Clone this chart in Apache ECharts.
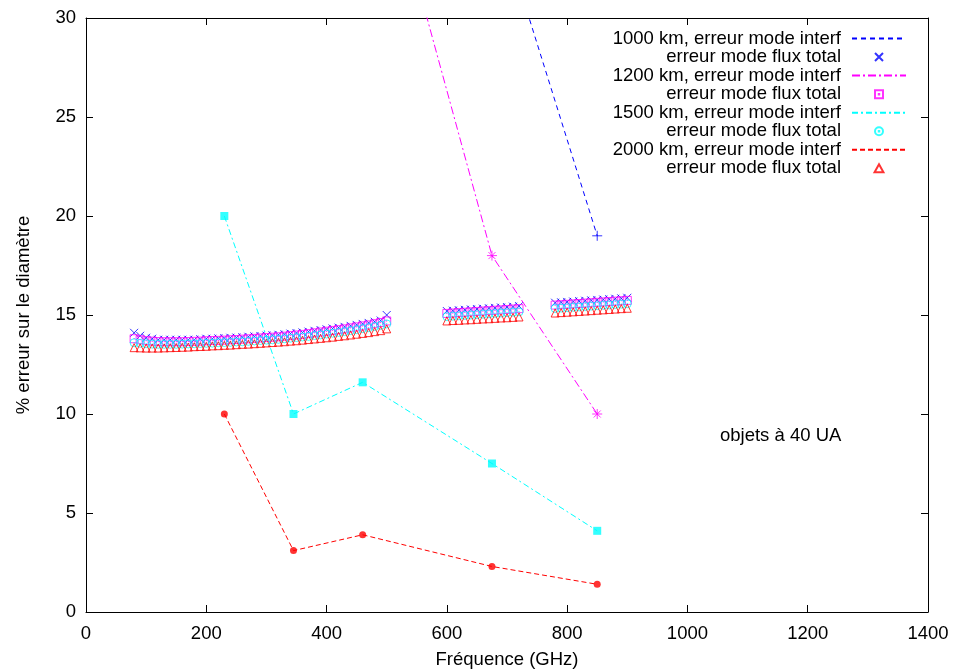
<!DOCTYPE html>
<html>
<head>
<meta charset="utf-8">
<script src="https://cdn.jsdelivr.net/npm/echarts@6/dist/echarts.min.js"></script>
<style>html,body{margin:0;padding:0;background:#fff}#c{width:956px;height:670px}</style>
</head>
<body>
<div id="c"></div>
<script>
// ---- data ----
var xTicks = [0, 200, 400, 600, 800, 1000, 1200, 1400];
var yTicks = [0, 5, 10, 15, 20, 25, 30];

var freqInterf = [230, 345, 460, 675, 850];
var interf1000 = [null, null, null, 36.0, 19.0];
var interf1200 = [null, null, 41.9, 18.0, 10.0];
var interf1500 = [20.0, 10.0, 11.6, 7.5, 4.1];
var interf2000 = [10.0, 3.1, 3.9, 2.3, 1.4];

var freqFlux = [80,90,100,110,120,130,140,150,160,170,180,190,200,210,220,230,240,250,260,270,280,290,300,310,320,330,340,350,360,370,380,390,400,410,420,430,440,450,460,470,480,490,500,
  600,610,620,630,640,650,660,670,680,690,700,710,720,
  780,790,800,810,820,830,840,850,860,870,880,890,900];
var flux1000 = [14.1,13.95,13.85,13.8,13.75,13.75,13.75,13.75,13.75,13.75,13.75,13.78,13.8,13.8,13.82,13.83,13.85,13.86,13.88,13.9,13.92,13.94,13.96,13.98,14.0,14.03,14.06,14.09,14.12,14.16,14.2,14.24,14.28,14.32,14.36,14.4,14.45,14.5,14.55,14.6,14.66,14.72,15.0,
  15.2,15.22,15.24,15.26,15.28,15.3,15.32,15.34,15.36,15.38,15.4,15.42,15.45,
  15.62,15.64,15.66,15.68,15.7,15.72,15.74,15.76,15.78,15.8,15.82,15.84,15.87];
var flux1200 = [13.8,13.75,13.7,13.68,13.66,13.65,13.65,13.65,13.65,13.66,13.67,13.68,13.7,13.71,13.72,13.73,13.75,13.76,13.78,13.8,13.82,13.84,13.86,13.88,13.9,13.93,13.96,13.99,14.02,14.06,14.1,14.14,14.18,14.22,14.26,14.3,14.35,14.4,14.45,14.5,14.56,14.62,14.7,
  15.08,15.1,15.12,15.14,15.16,15.18,15.2,15.22,15.24,15.26,15.28,15.3,15.32,
  15.5,15.52,15.54,15.56,15.58,15.6,15.62,15.64,15.66,15.68,15.7,15.72,15.74];
var flux1500 = [13.6,13.57,13.55,13.53,13.52,13.52,13.52,13.52,13.53,13.54,13.55,13.56,13.57,13.58,13.6,13.61,13.62,13.64,13.65,13.67,13.69,13.71,13.73,13.75,13.77,13.8,13.83,13.86,13.89,13.92,13.96,14.0,14.04,14.08,14.12,14.16,14.21,14.26,14.31,14.36,14.42,14.48,14.55,
  14.92,14.94,14.96,14.98,15.0,15.02,15.04,15.06,15.08,15.1,15.12,15.14,15.16,
  15.33,15.35,15.37,15.39,15.41,15.43,15.45,15.47,15.49,15.51,15.53,15.55,15.57];
var flux2000 = [13.35,13.34,13.33,13.33,13.33,13.34,13.35,13.36,13.37,13.38,13.4,13.41,13.42,13.44,13.45,13.47,13.48,13.5,13.52,13.53,13.55,13.57,13.59,13.61,13.63,13.65,13.68,13.7,13.73,13.76,13.79,13.82,13.85,13.88,13.92,13.95,13.99,14.03,14.07,14.11,14.16,14.21,14.3,
  14.7,14.72,14.73,14.75,14.76,14.78,14.8,14.81,14.83,14.85,14.86,14.88,14.9,
  15.1,15.12,15.14,15.16,15.18,15.2,15.22,15.24,15.26,15.28,15.3,15.32,15.34];

var legendLabels = {
  i1000: '1000 km, erreur mode interf',
  f1000: 'erreur mode flux total',
  i1200: '1200 km, erreur mode interf',
  f1200: 'erreur mode flux total',
  i1500: '1500 km, erreur mode interf',
  f1500: 'erreur mode flux total',
  i2000: '2000 km, erreur mode interf',
  f2000: 'erreur mode flux total'
};
var xTitle = 'Fréquence (GHz)';
var yTitle = '% erreur sur le diamètre';
var note = 'objets à 40 UA';

// ---- helpers ----
function pairs(xs, ys) { return xs.map(function (x, i) { return [x, ys[i] == null ? '-' : ys[i]]; }); }
var FONT = 'Liberation Sans';
var FS = 18.5;
var BLUE = '#0000ff', MAG = '#ff00ff', CYAN = '#00ffff', RED = '#ff0000';

var SYM_X = 'path://M0,0L10,10M10,0L0,10';
var SYM_PLUS = 'path://M5,0L5,10M0,5L10,5';
var SYM_STAR = 'path://M5,0L5,10M0,5L10,5M1.5,1.5L8.5,8.5M8.5,1.5L1.5,8.5';
var SYM_BOXDOT = 'path://M0,0L10,0L10,10L0,10Z M4.7,4.7L5.3,4.7L5.3,5.3L4.7,5.3Z';
var SYM_CIRCDOT = 'path://M5,0A5,5,0,1,1,5,10A5,5,0,1,1,5,0Z M4.7,4.7L5.3,4.7L5.3,5.3L4.7,5.3Z';
var SYM_TRI = 'path://M5,0L10,9L0,9Z';

function lineSeries(name, ys, color, dash) {
  return { name: name, type: 'line', data: pairs(freqInterf, ys), symbol: 'none', clip: true,
    lineStyle: { color: color, width: 1, type: dash }, itemStyle: { color: color },
    silent: true, emphasis: { disabled: true } };
}
function markerSeries(name, ys, color, symbol, size, filled) {
  return { name: name, type: 'scatter', data: pairs(freqInterf, ys), symbol: symbol, symbolSize: size, clip: true,
    itemStyle: filled ? { color: color } : { color: 'transparent', borderColor: color, borderWidth: 1 },
    silent: true, emphasis: { disabled: true } };
}
function fluxSeries(name, ys, color, symbol, size) {
  return { name: name, type: 'scatter', data: pairs(freqFlux, ys), symbol: symbol, symbolSize: size, clip: true,
    itemStyle: { color: 'transparent', borderColor: color, borderWidth: 1 },
    silent: true, emphasis: { disabled: true } };
}

var labelStyle = { color: '#000', fontFamily: FONT, fontSize: FS, formatter: function (v) { return String(v); } };
var axisCommon = {
  type: 'value',
  axisLine: { show: true, onZero: false, lineStyle: { color: '#000', width: 1 } },
  axisTick: { show: true, inside: true, length: 7, lineStyle: { color: '#000' } },
  splitLine: { show: false }
};
var hiddenLine = { itemStyle: { color: 'transparent', borderWidth: 0, opacity: 0 } };

var chart = echarts.init(document.getElementById('c'), null, { renderer: 'canvas' });
chart.setOption({
  animation: false,
  backgroundColor: '#fff',
  grid: { left: 86, right: 28, top: 18, bottom: 58, containLabel: false, outerBoundsMode: 'none' },
  xAxis: [
    Object.assign({}, axisCommon, { min: xTicks[0], max: xTicks[xTicks.length - 1], interval: xTicks[1] - xTicks[0], position: 'bottom',
      name: xTitle, nameLocation: 'middle', nameGap: 38, nameTextStyle: { color: '#000', fontFamily: FONT, fontSize: FS },
      axisLabel: Object.assign({ margin: 12 }, labelStyle) }),
    Object.assign({}, axisCommon, { min: xTicks[0], max: xTicks[xTicks.length - 1], interval: xTicks[1] - xTicks[0], position: 'top',
      axisLabel: { show: false } })
  ],
  yAxis: [
    Object.assign({}, axisCommon, { min: yTicks[0], max: yTicks[yTicks.length - 1], interval: yTicks[1] - yTicks[0], position: 'left',
      name: yTitle, nameLocation: 'middle', nameGap: 53, nameRotate: 90, nameTextStyle: { color: '#000', fontFamily: FONT, fontSize: FS },
      axisLabel: Object.assign({ margin: 10 }, labelStyle) }),
    Object.assign({}, axisCommon, { min: yTicks[0], max: yTicks[yTicks.length - 1], interval: yTicks[1] - yTicks[0], position: 'right',
      axisLabel: { show: false } })
  ],
  legend: {
    orient: 'vertical', align: 'right', right: 49, top: 29, padding: 0, itemGap: -0.45,
    itemWidth: 54, itemHeight: 8, selectedMode: false,
    data: [
      Object.assign({ name: 'i1000' }, hiddenLine), { name: 'f1000' },
      Object.assign({ name: 'i1200' }, hiddenLine), { name: 'f1200' },
      Object.assign({ name: 'i1500' }, hiddenLine), { name: 'f1500' },
      Object.assign({ name: 'i2000' }, hiddenLine), { name: 'f2000' }
    ],
    formatter: function (n) { return legendLabels[n]; },
    textStyle: { color: '#000', fontFamily: FONT, fontSize: FS, lineHeight: 17.6, padding: [0, 6, 0, 0] }
  },
  graphic: [{ type: 'text', left: 720, top: 426, style: { text: note, fill: '#000', font: FS + 'px "' + FONT + '"' } }],
  series: [
    lineSeries('i1000', interf1000, BLUE, [5, 4]),
    markerSeries('m1000', interf1000, BLUE, SYM_PLUS, 10, false),
    fluxSeries('f1000', flux1000, BLUE, SYM_X, 8),
    lineSeries('i1200', interf1200, MAG, [8, 3, 2, 3]),
    markerSeries('m1200', interf1200, MAG, SYM_STAR, 10, false),
    fluxSeries('f1200', flux1200, MAG, SYM_BOXDOT, 8),
    lineSeries('i1500', interf1500, CYAN, [6, 3, 2, 3]),
    markerSeries('m1500', interf1500, CYAN, 'rect', 8, true),
    fluxSeries('f1500', flux1500, CYAN, SYM_CIRCDOT, 8),
    lineSeries('i2000', interf2000, RED, [5, 3]),
    markerSeries('m2000', interf2000, RED, 'circle', 7, true),
    fluxSeries('f2000', flux2000, RED, SYM_TRI, 8)
  ]
});
</script>
</body>
</html>
